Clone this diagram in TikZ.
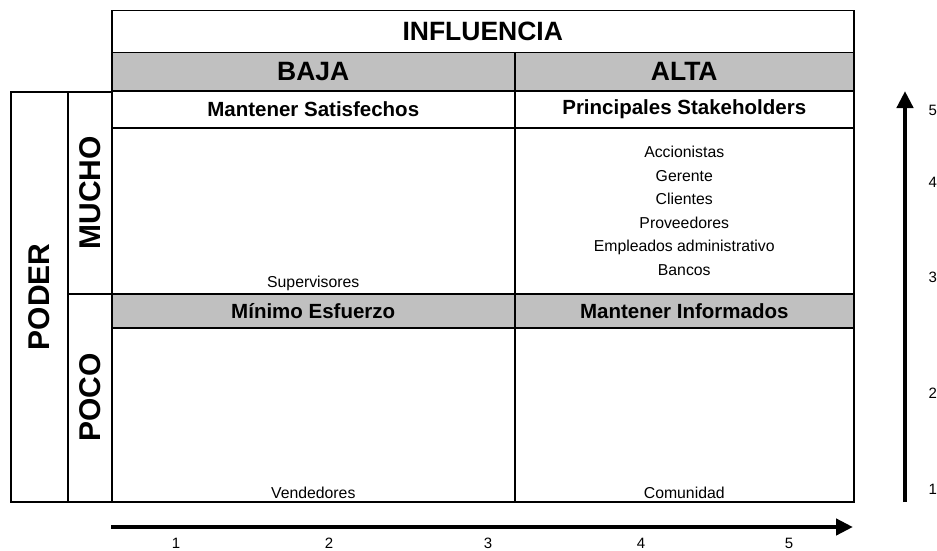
\documentclass[tikz,border=0pt]{standalone}
\usepackage{fontspec}
\setmainfont{Liberation Sans}
\usetikzlibrary{positioning,arrows.meta}
\definecolor{gris}{HTML}{C0C0C0}

\begin{document}
\begin{tikzpicture}[x=1pt, y=-1pt, >=Triangle,
    celda/.style={draw, line width=1.5pt, anchor=north west, inner sep=0pt},
    titulo/.style={font=\bfseries\fontsize{26.5}{26.5}\selectfont},
    cabecera/.style={font=\bfseries\fontsize{20.5}{21}\selectfont},
    texto/.style={font=\fontsize{15.8}{23.6}\selectfont},
    vertical/.style={rotate=90, font=\bfseries\fontsize{30}{30}\selectfont},
    num/.style={font=\fontsize{15}{15}\selectfont},
    flecha/.style={line width=4.5pt, -{Triangle[length=17pt, width=16pt]}}]
  \useasboundingbox (0,0) rectangle (937,551);
  % Influencia
  \node[celda, minimum width=742pt, minimum height=42pt, titulo] (infl) at (111,10) {INFLUENCIA};
  \node[celda, fill=gris, minimum width=403pt, minimum height=38pt, titulo] (baja) at (111,52) {BAJA};
  \node[celda, fill=gris, minimum width=339pt, minimum height=38pt, titulo] (alta) at (514,52) {ALTA};
  % Poder
  \node[celda, minimum width=57pt, minimum height=410pt] (poder) at (10,91) {};
  \node[celda, minimum width=44pt, minimum height=202pt] (mucho) at (67,91) {};
  \node[celda, minimum width=44pt, minimum height=208pt] (poco) at (67,293) {};
  \node[vertical] (tpoder) at (poder.center) {PODER};
  \node[vertical] (tmucho) at (mucho.center) {MUCHO};
  \node[vertical] (tpoco) at (poco.center) {POCO};
  % Cuadrantes superiores
  \node[celda, minimum width=403pt, minimum height=37pt, cabecera] (ms) at (111,90) {Mantener Satisfechos};
  \node[celda, minimum width=339pt, minimum height=37pt, cabecera] (ps) at (514,90) {Principales Stakeholders};
  \node[celda, minimum width=403pt, minimum height=166pt] (c11) at (111,127) {};
  \node[celda, minimum width=339pt, minimum height=166pt] (c12) at (514,127) {};
  % Cuadrantes inferiores
  \node[celda, fill=gris, minimum width=403pt, minimum height=34pt, cabecera] (me) at (111,293) {Mínimo Esfuerzo};
  \node[celda, fill=gris, minimum width=339pt, minimum height=34pt, cabecera] (mi) at (514,293) {Mantener Informados};
  \node[celda, minimum width=403pt, minimum height=174pt] (c21) at (111,327) {};
  \node[celda, minimum width=339pt, minimum height=174pt] (c22) at (514,327) {};
  % Stakeholders
  \node[texto, align=center] (lista) at (c12.center) {Accionistas\\Gerente\\Clientes\\Proveedores\\Empleados administrativo\\Bancos};
  \node[texto, above=0pt of c11.south] (sup) {Supervisores};
  \node[texto, above=0pt of c21.south] (ven) {Vendedores};
  \node[texto, above=0pt of c22.south] (com) {Comunidad};
  % Ejes
  \coordinate (xi) at (111,527);
  \coordinate (xf) at (853,527);
  \coordinate (yi) at (905,502);
  \coordinate (yf) at (905,91);
  \draw[flecha] (xi) -- (xf);
  \draw[flecha] (yi) -- (yf);
  \foreach \n/\x in {1/176, 2/329, 3/488, 4/641, 5/789}
    \node[num] (x\n) at (\x,543) {\n};
  \foreach \n/\y in {1/489, 2/393, 3/277, 4/182, 5/110}
    \node[num, anchor=west, inner sep=0pt] (y\n) at (928.5,\y) {\n};
\end{tikzpicture}
\end{document}
